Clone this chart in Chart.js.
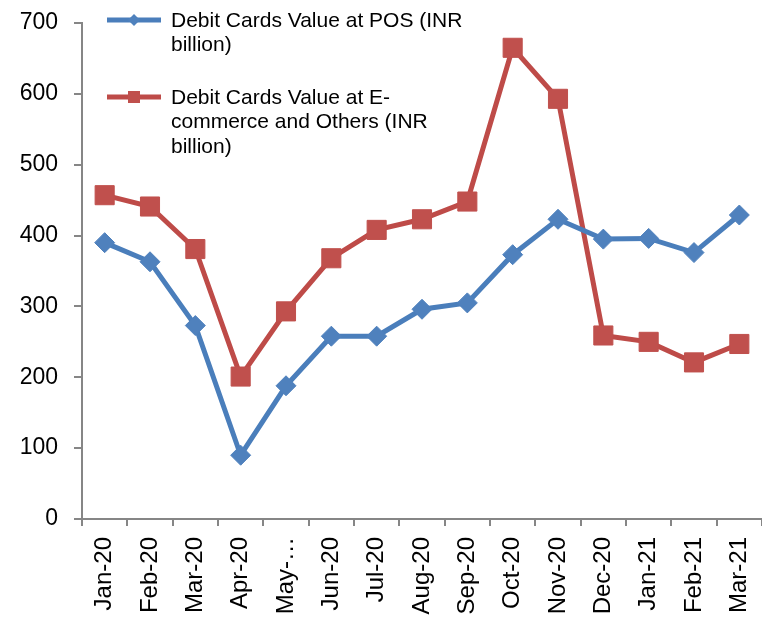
<!DOCTYPE html>
<html>
<head>
<meta charset="utf-8">
<script src="https://cdn.jsdelivr.net/npm/chart.js@4.4.1/dist/chart.umd.min.js"></script>
<style>
  html, body { margin: 0; padding: 0; background: #ffffff; }
  #wrap { width: 762px; height: 621px; position: relative; }
</style>
</head>
<body>
<div id="wrap"><canvas id="c" width="762" height="621"></canvas></div>
<script>
const categories = ["Jan-20","Feb-20","Mar-20","Apr-20","May-\u2026","Jun-20","Jul-20","Aug-20","Sep-20","Oct-20","Nov-20","Dec-20","Jan-21","Feb-21","Mar-21"];
const posValues = [390, 363, 273, 90, 188, 258, 258, 296, 305, 373, 423, 395, 396, 376, 429];
const ecomValues = [457, 441, 381, 201, 293, 368, 408, 423, 448, 665, 593, 259, 250, 221, 247];
const yTicks = [0, 100, 200, 300, 400, 500, 600, 700];
const posLegend = ["Debit Cards Value at POS (INR", "billion)"];
const ecomLegend = ["Debit Cards Value at E-", "commerce and Others (INR", "billion)"];

const FONT = "'Liberation Sans', Arial, sans-serif";
const AXIS = '#868686';

const legendPlugin = {
  id: 'customLegend',
  afterDraw(chart) {
    const ctx = chart.ctx;
    const items = [
      { ds: chart.data.datasets[0], lines: posLegend, y: 20 },
      { ds: chart.data.datasets[1], lines: ecomLegend, y: 97 }
    ];
    ctx.save();
    items.forEach(it => {
      const ds = it.ds;
      ctx.strokeStyle = ds.borderColor;
      ctx.lineWidth = ds.borderWidth;
      ctx.beginPath();
      ctx.moveTo(107, it.y);
      ctx.lineTo(161, it.y);
      ctx.stroke();
      ctx.fillStyle = ds.pointBackgroundColor;
      ctx.beginPath();
      if (ds.pointStyle === 'rectRot') {
        const r = 6;
        ctx.moveTo(134 - r, it.y); ctx.lineTo(134, it.y - r);
        ctx.lineTo(134 + r, it.y); ctx.lineTo(134, it.y + r);
        ctx.closePath();
      } else {
        ctx.rect(134 - 6, it.y - 6, 12, 12);
      }
      ctx.fill();
      ctx.fillStyle = '#000';
      ctx.font = '21px ' + FONT;
      ctx.textBaseline = 'middle';
      ctx.textAlign = 'left';
      it.lines.forEach((t, i) => {
        ctx.fillText(t, 171, it.y + 1 + i * 24.5);
      });
    });
    ctx.restore();
  }
};

new Chart(document.getElementById('c'), {
  type: 'line',
  data: {
    labels: categories,
    datasets: [
      {
        label: posLegend.join(' '),
        data: posValues,
        borderColor: '#4A7EBB',
        backgroundColor: '#4F81BD',
        pointBackgroundColor: '#4F81BD',
        pointBorderColor: '#4F81BD',
        borderWidth: 5,
        pointStyle: 'rectRot',
        pointRadius: 10,
        pointBorderWidth: 1,
        tension: 0
      },
      {
        label: ecomLegend.join(' '),
        data: ecomValues,
        borderColor: '#BE4B48',
        backgroundColor: '#C0504D',
        pointBackgroundColor: '#C0504D',
        pointBorderColor: '#C0504D',
        borderWidth: 5,
        pointStyle: 'rect',
        pointRadius: 13.5,
        pointBorderWidth: 1,
        tension: 0
      }
    ]
  },
  options: {
    responsive: false,
    animation: false,
    layout: { autoPadding: false, padding: { top: 23, right: 0, left: 0, bottom: 0 } },
    plugins: { legend: { display: false }, tooltip: { enabled: false } },
    scales: {
      x: {
        offset: true,
        grid: { offset: true, drawOnChartArea: false, color: AXIS, lineWidth: 2, tickLength: 7 },
        border: { color: AXIS, width: 2 },
        ticks: {
          color: '#000', font: { family: FONT, size: 24 },
          minRotation: 90, maxRotation: 90, autoSkip: false, padding: 11
        },
        afterFit(scale) { scale.height = 102; scale.paddingLeft = 0; scale.paddingRight = 0; }
      },
      y: {
        min: 0, max: 700,
        afterBuildTicks(scale) { scale.ticks = yTicks.map(v => ({ value: v })); },
        grid: { drawOnChartArea: false, color: AXIS, lineWidth: 2, tickLength: 8 },
        border: { color: AXIS, width: 2 },
        ticks: { color: '#000', font: { family: FONT, size: 23 }, padding: 16 },
        afterFit(scale) { scale.width = 82; scale.paddingTop = 0; scale.paddingBottom = 0; }
      }
    }
  },
  plugins: [legendPlugin]
});
</script>
</body>
</html>
